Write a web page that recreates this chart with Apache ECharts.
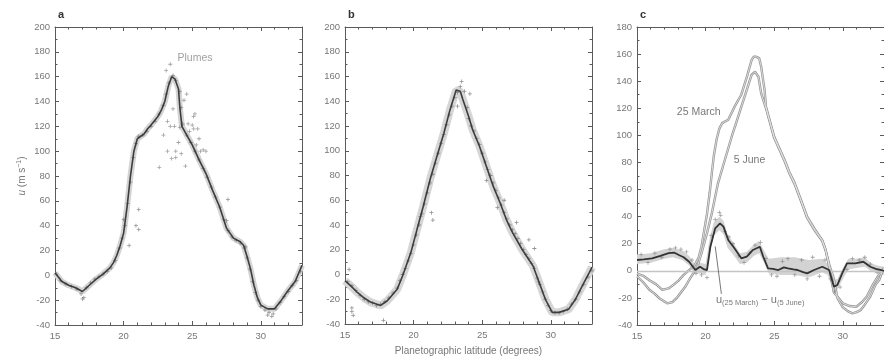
<!DOCTYPE html>
<html><head><meta charset="utf-8">
<script src="https://cdn.jsdelivr.net/npm/echarts@6/dist/echarts.min.js"></script>
<style>html,body{margin:0;padding:0;background:#fff}#c{width:884px;height:361px}</style>
</head><body><div id="c"></div>
<script>
// ---------- data ----------
const xTicksLat = [15, 20, 25, 30];
const yTicksAB = [-40, -20, 0, 20, 40, 60, 80, 100, 120, 140, 160, 180, 200];
const yTicksC = [-40, -20, 0, 20, 40, 60, 80, 100, 120, 140, 160, 180];

// panel a: 25 March profile (lat, u)
const lineA = [[15.0,2],[15.5,-5],[16.0,-8],[16.5,-10],[17.0,-13],[17.5,-8],[18.0,-3],[18.5,1],[19.0,6],[19.25,10],[19.5,16],[19.75,24],[20.0,34],[20.25,55],[20.5,80],[20.75,100],[21.0,110],[21.25,112],[21.5,114],[21.75,118],[22.0,121],[22.5,128],[22.75,133],[23.0,140],[23.25,152],[23.5,160],[23.75,158],[24.0,150],[24.1,135],[24.25,120],[24.5,115],[25.0,105],[25.5,93],[26.0,82],[26.5,68],[27.0,55],[27.5,38],[28.0,30],[28.5,27],[28.75,24],[29.0,15],[29.25,5],[29.5,-8],[29.75,-18],[30.0,-24],[30.5,-27],[31.0,-27],[31.5,-20],[32.0,-12],[32.5,-5],[33.0,8]];
const pointsA = [[15.1,1],[15.4,-4],[15.8,-7],[16.2,-9],[16.6,-11],[16.9,-15],[17.1,-18],[17.0,-19],[17.3,-10],[17.6,-6],[17.9,-3],[18.2,-1],[18.5,1],[18.8,3],[19.1,6],[19.4,12],[19.7,22],[19.9,30],[20.1,40],[20.3,58],[20.5,75],[20.7,95],[20.9,106],[21.1,112],[21.4,113],[21.7,116],[22.0,120],[22.3,124],[22.6,130],[22.9,137],[23.1,146],[23.3,155],[23.6,161],[23.8,157],[20.0,45],[20.4,24],[21.1,53],[20.9,40],[21.1,37],[24.1,148],[24.2,135],[24.3,122],[24.6,113],[24.9,107],[25.2,100],[25.5,93],[25.8,86],[26.1,79],[26.4,71],[26.7,63],[27.0,55],[27.3,45],[27.6,36],[27.9,31],[28.2,28],[28.5,26],[28.8,22],[29.0,14],[29.2,5],[29.4,-5],[29.6,-14],[29.8,-20],[30.0,-25],[30.3,-28],[30.6,-30],[30.9,-31],[31.1,-27],[31.4,-22],[31.7,-17],[32.0,-13],[32.3,-8],[32.6,-4],[32.9,3],[27.6,61],[27.5,44],[28.9,23],[30.8,-33],[30.5,-32]];
const plumesA = [[23.1,165],[23.4,170],[23.6,134],[23.2,124],[22.9,113],[22.6,87],[23.2,100],[23.5,94],[23.8,100],[24.0,107],[24.4,141],[24.6,146],[24.8,116],[25.1,118],[25.2,130],[25.3,105],[25.5,110],[25.6,100],[24.5,88],[24.2,98],[23.8,95],[25.1,128],[25.4,118],[23.4,120],[23.7,120],[24.1,119],[24.3,121],[24.7,122],[25.0,121],[26.0,100],[25.8,101]];

// panel b: 5 June profile
const lineB = [[15.0,-5],[15.5,-10],[15.9,-14.5],[16.4,-19],[16.9,-22.5],[17.6,-25],[18.1,-21],[18.8,-12],[19.2,-1],[19.8,17.7],[20.25,36.5],[20.7,55],[21.2,76.8],[21.7,95.6],[22.2,114],[22.65,133],[23.1,149],[23.4,148],[23.6,141],[24.0,128],[24.3,117],[24.8,103.6],[25.3,87.5],[25.8,71.4],[26.3,58],[26.75,44.6],[27.2,34],[27.9,20.4],[28.7,7],[29.15,-6.4],[29.6,-20],[30.1,-30.6],[30.6,-30.6],[31.3,-28],[31.8,-20],[32.3,-9],[32.8,1.6],[33.0,6]];
const pointsB = [[15.2,-6],[15.5,-9],[15.8,-13],[16.1,-17],[16.4,-20],[16.7,-22],[17.0,-23],[17.3,-25],[17.6,-24],[17.9,-22],[18.2,-19],[18.5,-15],[18.8,-11],[19.0,-5],[19.2,0],[19.4,5],[19.6,11],[19.8,17],[20.0,24],[20.2,32],[20.4,40],[20.6,49],[20.8,57],[21.0,66],[21.2,74],[21.4,81],[21.6,90],[21.8,98],[22.0,106],[22.2,113],[22.4,121],[22.6,129],[22.8,136],[23.0,143],[23.2,147],[23.4,152],[23.5,156],[23.7,148],[23.9,135],[24.0,126],[24.2,120],[24.4,116],[24.6,110],[24.8,105],[25.0,98],[25.2,91],[25.4,85],[25.6,80],[25.8,74],[26.0,68],[26.2,62],[26.4,56],[26.6,50],[26.8,45],[27.0,40],[27.2,36],[27.4,33],[27.6,29],[27.8,25],[28.0,20],[28.2,16],[28.4,13],[28.6,9],[28.8,5],[29.0,-3],[29.2,-8],[29.4,-14],[29.6,-20],[29.8,-25],[30.0,-29],[30.3,-31],[30.6,-31],[30.9,-30],[31.2,-28],[31.5,-24],[31.8,-20],[32.1,-14],[32.4,-8],[32.7,-2],[33.0,3],[15.3,4],[15.5,-27],[15.5,-30],[15.6,-33],[17.8,-37],[21.3,50],[21.4,44],[26.1,54],[27.5,42],[28.4,28],[28.8,21],[29.1,-6],[26.6,60],[25.3,76],[24.1,146],[23.2,136],[20.5,47]];

// panel c: profiles as drawn in panel c
const marchC = [[15.0,-2],[15.5,-4],[15.9,-7],[16.4,-10],[16.85,-14],[17.3,-13],[17.7,-10],[18.05,-7],[18.4,-3],[18.8,0.5],[19.2,4],[19.5,10],[19.7,18],[19.9,30],[20.1,42],[20.3,58],[20.45,72],[20.6,85],[20.8,97],[21.0,105],[21.2,109],[21.65,111.5],[22.1,121],[22.6,130],[23.0,143],[23.35,155.6],[23.5,158],[23.7,158],[23.9,157],[24.05,150.7],[24.2,140],[24.3,133.5],[24.4,121],[24.7,110],[25.0,99],[25.4,90],[25.75,82],[26.1,73],[26.5,64.6],[26.95,52.3],[27.4,40],[27.7,35],[28.0,30],[28.5,22.7],[28.75,15.4],[29.0,3],[29.2,-8],[29.35,-16],[29.6,-19],[30.0,-24],[30.5,-26],[31.0,-26.5],[31.4,-23],[31.75,-19],[32.2,-10],[32.5,-5],[32.8,-1],[33.0,2]];
const juneC = [[15.0,-4],[15.5,-9],[15.9,-14],[16.3,-17],[16.6,-20],[17.2,-24],[17.6,-23],[17.9,-20],[18.5,-12],[18.9,-5],[19.1,-2],[19.4,3],[19.7,13],[20.1,27.7],[20.45,42.4],[20.9,64.6],[21.4,81.8],[21.9,99],[22.25,110],[22.6,121],[23.0,133.5],[23.35,144.6],[23.6,147],[23.85,143.3],[24.05,131],[24.3,123],[24.4,120],[24.7,109],[25.0,98],[25.4,89],[25.75,81],[26.1,72],[26.5,63.5],[26.95,51.5],[27.4,39],[27.7,34],[28.0,29],[28.5,22],[28.75,15],[29.0,5],[29.35,-6],[29.6,-20],[30.0,-27],[30.4,-30],[30.7,-31.4],[31.0,-30.5],[31.3,-29],[31.6,-25],[32.0,-19],[32.4,-10],[32.65,-6.8],[32.9,0],[33.0,2]];
// difference u(25 March) - u(5 June)
const diffC = [[15.0,8],[15.5,8.5],[16.1,9.2],[16.7,11],[17.3,13],[17.7,13.5],[18.05,11.7],[18.4,10],[18.8,6.7],[19.25,0.6],[19.6,3],[19.9,1],[20.1,0.6],[20.35,18],[20.7,31.4],[21.05,35],[21.3,32.6],[21.65,22.7],[22.1,16.6],[22.6,9.2],[23.0,10.4],[23.45,15.4],[23.95,17.8],[24.2,10.4],[24.55,1.8],[24.9,1.5],[25.3,0.6],[25.7,2.5],[26.0,1.8],[26.4,1],[26.7,0.6],[27.1,-1],[27.4,-1.9],[27.9,0.6],[28.5,3],[29.0,0.6],[29.35,-11.7],[29.6,-10.5],[29.95,-1.9],[30.3,5.5],[30.9,5.5],[31.5,6.7],[32.0,3],[32.4,1.5],[32.8,0.6],[33.0,0]];
const bandC = [[15,5,12],[16,6,13],[17,9,16],[17.6,10,17],[18.3,8,15],[18.8,4,11],[19.2,-2,5],[19.6,-2,6],[20.0,-3,5],[20.3,13,24],[20.6,26,36],[21.0,30,40],[21.3,27,37],[21.6,17,27],[22.0,12,21],[22.5,5,13],[23.0,6,14],[23.5,11,19],[23.9,13,22],[24.3,5,14],[24.6,-2,9],[25.5,-3,10],[26.5,-3,10],[27.5,-5,8],[28.5,-1,9],[28.9,-3,5],[29.3,-15,-7],[29.6,-14,-6],[30.0,-6,2],[30.4,1,9],[31.0,2,9],[31.6,3,10],[32.0,0,6],[32.5,-2,4],[33,-3,3]];
const pointsC = [[15.3,12],[15.8,6],[16.3,13],[16.8,10],[17.4,16],[17.8,17],[18.2,16],[18.6,14],[19.0,8],[19.3,-2],[19.7,-3],[20.1,-5],[20.4,26],[20.7,38],[21.0,43],[21.1,41],[21.4,29],[21.7,25],[22.0,20],[22.4,11],[22.8,6],[23.2,13],[23.6,19],[24.0,21],[24.4,9],[24.8,-3],[25.2,-4],[25.6,7],[26.0,9],[26.5,-3],[27.0,8],[27.4,-6],[27.8,10],[28.3,-4],[28.7,8],[29.1,-6],[29.4,-15],[29.8,-12],[30.3,1],[30.7,9],[31.2,8],[31.6,10],[32.0,5],[32.5,-1]];

// ---------- chart ----------
const FONT = '"Liberation Sans", Arial, sans-serif';
const AX = '#5a5a5a';
const plus = 'path://M4,0H6V4H10V6H6V10H4V6H0V4H4Z';
const grids = [
  {left:55, top:27, width:247, height:298},
  {left:345, top:27, width:247, height:298},
  {left:637, top:27, width:249, height:298}
];
const xAxes = [], yAxes = [];
function mkX(gi, pos, labels, name){
  return {type:'value', gridIndex:gi, position:pos, min:15, max:33, interval:5,
    axisLine:{show:true, onZero:false, lineStyle:{color:AX, width:1}},
    axisTick:{show:true, inside:true, length:4, lineStyle:{color:AX}},
    minorTick:{show:true, splitNumber:5, length:2.5, lineStyle:{color:AX}},
    splitLine:{show:false},
    axisLabel:{show:labels, showMaxLabel:false, color:'#777', fontSize:9.5, fontFamily:FONT, margin:6,
      formatter:function(v){ return xTicksLat.indexOf(v) >= 0 ? String(v) : ''; }},
    name: name||'', nameLocation:'middle', nameGap:22,
    nameTextStyle:{color:'#777', fontSize:10, fontFamily:FONT}};
}
function mkY(gi, pos, labels, max, ticks, name){
  return {type:'value', gridIndex:gi, position:pos, min:-40, max:max, interval:20,
    axisLine:{show:true, onZero:false, lineStyle:{color:AX, width:1}},
    axisTick:{show:true, inside:true, length:4, lineStyle:{color:AX}},
    minorTick:{show:true, splitNumber:2, length:2.5, lineStyle:{color:AX}},
    splitLine:{show:false},
    axisLabel:{show:labels, color:'#777', fontSize:9.5, fontFamily:FONT, margin:5,
      formatter:function(v){ return (ticks||[]).indexOf(v) >= 0 ? String(v) : ''; }},
    name: name||'', nameLocation:'middle', nameGap:27, nameRotate:90,
    nameTextStyle:{color:'#777', fontSize:10, fontFamily:FONT,
      rich:{i:{fontStyle:'italic', fontSize:10, color:'#777', fontFamily:FONT},
            s:{fontSize:7, color:'#777', verticalAlign:'top', padding:[0,0,5,0], fontFamily:FONT}}}};
}
for (let g=0; g<3; g++){
  xAxes.push(mkX(g,'bottom',true, g===1?'Planetographic latitude (degrees)':''));
  xAxes.push(mkX(g,'top',false));
  const ymax = g===2?180:200;
  yAxes.push(mkY(g,'left',true,ymax, g===2?yTicksC:yTicksAB, g===0?'{i|u} (m s{s|−1})':''));
  yAxes.push(mkY(g,'right',false,ymax));
}
function ax(g){ return {xAxisIndex:g*2, yAxisIndex:g*2}; }
function textSeries(g, pos, txt, extra){
  return Object.assign({type:'scatter', symbolSize:0, silent:true, z:10, data:[pos],
    label:{show:true, formatter:txt, position:'inside', color:'#555', fontSize:10.5, fontFamily:FONT}}, ax(g), extra||{});
}
const series = [
  // panel a
  Object.assign({type:'line', data:lineA, showSymbol:false, lineStyle:{color:'#d4d4d4', width:6}, silent:true, z:1}, ax(0)),
  Object.assign({type:'scatter', data:pointsA, symbol:plus, symbolSize:4, itemStyle:{color:'#7a7a7a'}, z:2}, ax(0)),
  Object.assign({type:'scatter', data:plumesA, symbol:plus, symbolSize:4, itemStyle:{color:'#8a8a8a'}, z:2}, ax(0)),
  Object.assign({type:'line', data:lineA, showSymbol:false, lineStyle:{color:'#3d3d3d', width:1.6}, z:3}, ax(0)),
  textSeries(0,[25.2,175],'Plumes',{label:{show:true, formatter:'Plumes', position:'inside', color:'#888', fontSize:10.5, fontFamily:FONT}}),
  // panel b
  Object.assign({type:'line', data:lineB, showSymbol:false, lineStyle:{color:'#d6d6d6', width:8}, silent:true, z:1}, ax(1)),
  Object.assign({type:'scatter', data:pointsB, symbol:plus, symbolSize:4, itemStyle:{color:'#777'}, z:2}, ax(1)),
  Object.assign({type:'line', data:lineB, showSymbol:false, lineStyle:{color:'#3d3d3d', width:1.6}, z:3}, ax(1)),
  // panel c
  Object.assign({type:'custom', data:[[15,0]], z:1, silent:true, clip:true,
    renderItem:function(params, api){
      if (params.dataIndex!==0) return;
      const up = bandC.map(d=>api.coord([d[0],d[2]]));
      const lo = bandC.slice().reverse().map(d=>api.coord([d[0],d[1]]));
      return {type:'polygon', shape:{points:up.concat(lo)}, style:{fill:'#d3d3d3'}};
    }}, ax(2)),
  Object.assign({type:'line', data:marchC, showSymbol:false, lineStyle:{color:'#969696', width:2.4}, z:2,
    markLine:{silent:true, symbol:'none', label:{show:false}, lineStyle:{color:'#c4c4c4', width:1.3, type:'solid'}, data:[{yAxis:0}]}}, ax(2)),
  Object.assign({type:'line', data:marchC, showSymbol:false, lineStyle:{color:'#ececec', width:0.8}, z:3}, ax(2)),
  Object.assign({type:'line', data:juneC, showSymbol:false, lineStyle:{color:'#969696', width:2.4}, z:2}, ax(2)),
  Object.assign({type:'line', data:juneC, showSymbol:false, lineStyle:{color:'#ececec', width:0.8}, z:3}, ax(2)),
  Object.assign({type:'scatter', data:pointsC, symbol:plus, symbolSize:4, itemStyle:{color:'#8a8a8a'}, z:4}, ax(2)),
  Object.assign({type:'line', data:diffC, showSymbol:false, lineStyle:{color:'#333', width:1.8}, z:5,
    markLine:{silent:true, symbol:'none', label:{show:false}, lineStyle:{color:'#555', width:0.8, type:'solid'},
      data:[[{coord:[20.7,18]},{coord:[21.15,-17]}]]}}, ax(2)),
  textSeries(2,[19.5,117],'25 March'),
  textSeries(2,[23.2,82],'5 June'),
  textSeries(2,[20.75,-21.5],'',
    {label:{show:true, position:'right', distance:0, formatter:'u{s|(25 March)} − u{s|(5 June)}', color:'#555', fontSize:11, fontFamily:FONT,
      rich:{s:{fontSize:7.5, color:'#555', verticalAlign:'bottom', padding:[6,0,0,0], fontFamily:FONT}}}})
];
const chart = echarts.init(document.getElementById('c'), null, {renderer:'canvas'});
chart.setOption({
  backgroundColor:'#fff', animation:false,
  title:[
    {text:'a', left:53, top:4, textStyle:{fontSize:11, fontWeight:'bold', color:'#333', fontFamily:FONT}},
    {text:'b', left:343, top:4, textStyle:{fontSize:11, fontWeight:'bold', color:'#333', fontFamily:FONT}},
    {text:'c', left:635, top:4, textStyle:{fontSize:11, fontWeight:'bold', color:'#333', fontFamily:FONT}}
  ],
  grid:grids, xAxis:xAxes, yAxis:yAxes, series:series
});
</script></body></html>
